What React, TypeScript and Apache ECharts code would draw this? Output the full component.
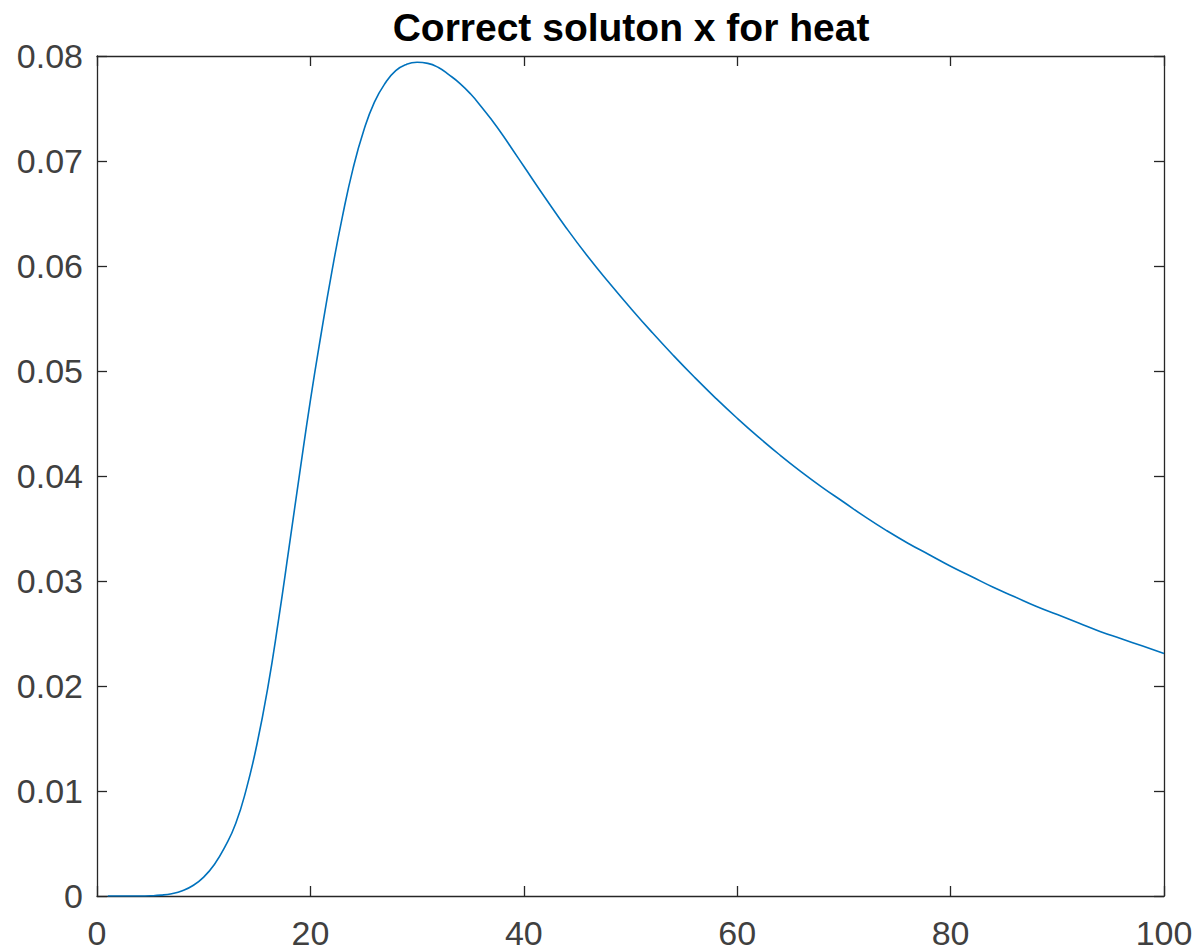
import React, { useEffect, useRef } from "react";
import * as echarts from "echarts";

// Solution curve sampled at time values t
const tValues = [
  1, 2, 3, 4, 5, 6, 7, 8, 9, 10, 11, 12, 13, 14, 15, 16, 17, 18, 19, 20, 21, 22, 23, 24, 25,
  26, 27, 28, 29, 30, 31, 32, 33, 34, 35, 36, 37, 38, 39, 40, 42, 44, 46, 48, 50, 52, 54, 56,
  58, 60, 62, 64, 66, 68, 70, 72, 74, 76, 78, 80, 82, 84, 86, 88, 90, 92, 94, 96, 98, 100,
];
const xValues = [
  0, 0, 0, 0, 0.00002, 0.00008, 0.00022, 0.0005, 0.001, 0.0018, 0.003, 0.0047, 0.0069, 0.0102,
  0.0145, 0.0198, 0.0262, 0.0332, 0.0403, 0.0472, 0.0535, 0.0594, 0.0647, 0.0693, 0.0729,
  0.0756, 0.0774, 0.0786, 0.0792, 0.0794, 0.0793, 0.0789, 0.0782, 0.0774, 0.0764, 0.0752,
  0.0739, 0.0725, 0.071, 0.0695, 0.0665, 0.0636, 0.0609, 0.0584, 0.056, 0.0537, 0.0515,
  0.0494, 0.0474, 0.0455, 0.0437, 0.042, 0.0404, 0.0389, 0.0375, 0.0361, 0.0348, 0.0336,
  0.0325, 0.0314, 0.0304, 0.0294, 0.0285, 0.0276, 0.0268, 0.026, 0.0252, 0.0245, 0.0238,
  0.0231,
];
const xTicks = [0, 20, 40, 60, 80, 100];
const yTicks = [0, 0.01, 0.02, 0.03, 0.04, 0.05, 0.06, 0.07, 0.08];

const titleText = "Correct soluton x for heat";
const FONT = "'Liberation Sans', Arial, Helvetica, sans-serif";
const AXIS_COLOR = "#262626";
const LABEL_COLOR = "#404040";

export default function App() {
  const ref = useRef<HTMLDivElement>(null);

  useEffect(() => {
    if (!ref.current) return;
    const chart = echarts.init(ref.current, undefined, { renderer: "svg" });

    const xMin = xTicks[0];
    const xMax = xTicks[xTicks.length - 1];
    const xStep = xTicks[1] - xTicks[0];
    const yMin = yTicks[0];
    const yMax = yTicks[yTicks.length - 1];
    const yStep = yTicks[1] - yTicks[0];

    const lineStyle = { color: AXIS_COLOR, width: 1.3 };
    const tickStyle = { inside: true, length: 10, lineStyle: { color: AXIS_COLOR, width: 1.3 } };

    chart.setOption({
      animation: false,
      backgroundColor: "#ffffff",
      title: {
        text: titleText,
        left: 626,
        top: 3,
        textAlign: "center",
        textStyle: {
          fontFamily: FONT,
          fontWeight: "bold",
          fontSize: 39,
          color: "#000000",
        },
      },
      grid: { left: 97, right: 38, top: 56, bottom: 56, containLabel: false },
      xAxis: [
        {
          type: "value",
          position: "bottom",
          min: xMin,
          max: xMax,
          interval: xStep,
          axisLine: { show: true, onZero: false, lineStyle },
          axisTick: tickStyle,
          splitLine: { show: false },
          axisLabel: {
            margin: 20,
            fontFamily: FONT,
            fontSize: 34,
            color: LABEL_COLOR,
          },
        },
        {
          type: "value",
          position: "top",
          min: xMin,
          max: xMax,
          interval: xStep,
          axisLine: { show: true, onZero: false, lineStyle },
          axisTick: tickStyle,
          splitLine: { show: false },
          axisLabel: { show: false },
        },
      ],
      yAxis: [
        {
          type: "value",
          position: "left",
          min: yMin,
          max: yMax,
          interval: yStep,
          axisLine: { show: true, onZero: false, lineStyle },
          axisTick: tickStyle,
          splitLine: { show: false },
          axisLabel: {
            margin: 14,
            fontFamily: FONT,
            fontSize: 34,
            color: LABEL_COLOR,
            formatter: (v: number) => (Math.abs(v) < 1e-9 ? "0" : v.toFixed(2)),
          },
        },
        {
          type: "value",
          position: "right",
          min: yMin,
          max: yMax,
          interval: yStep,
          axisLine: { show: true, onZero: false, lineStyle },
          axisTick: tickStyle,
          splitLine: { show: false },
          axisLabel: { show: false },
        },
      ],
      series: [
        {
          type: "line",
          xAxisIndex: 0,
          yAxisIndex: 0,
          data: tValues.map((t, i) => [t, xValues[i]]),
          showSymbol: false,
          smooth: 0.5,
          lineStyle: { color: "#0072BD", width: 1.6 },
          silent: true,
        },
      ],
    });

    return () => chart.dispose();
  }, []);

  return (
    <div
      ref={ref}
      style={{ position: "fixed", left: 0, top: 0, width: 1202, height: 952, background: "#fff" }}
    />
  );
}
